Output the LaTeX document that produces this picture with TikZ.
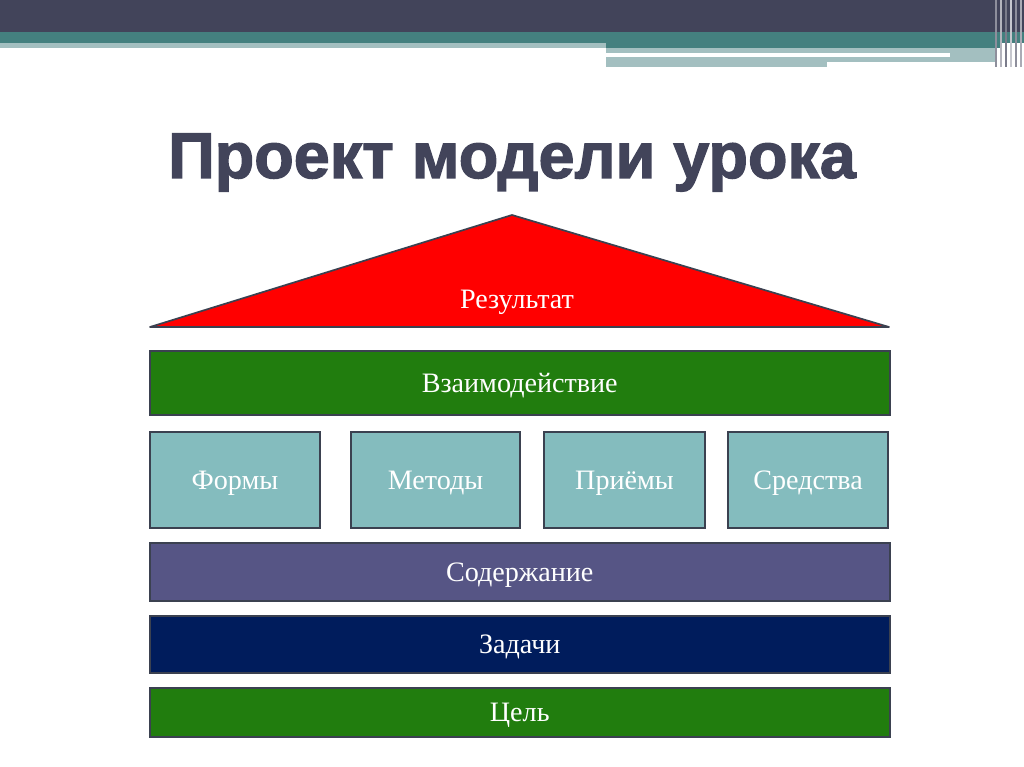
\documentclass[tikz,border=0pt]{standalone}
\usepackage{fontspec}
\setmainfont{Liberation Serif}
\newfontfamily\titlefont[FakeBold=2]{Liberation Sans Bold}
\definecolor{bardark}{HTML}{42445A}
\definecolor{barteal}{HTML}{44807F}
\definecolor{barlight}{HTML}{A3BFC0}
\definecolor{edge}{HTML}{3B4150}
\definecolor{roofred}{HTML}{FF0000}
\definecolor{leafgreen}{HTML}{217D0E}
\definecolor{seateal}{HTML}{84BCBE}
\definecolor{lavender}{HTML}{565585}
\definecolor{navyblue}{HTML}{001C5C}
\begin{document}
\begin{tikzpicture}[x=0.025cm, y=-0.025cm,
  label text/.style={text=white, font=\fontsize{20}{22}\selectfont,
    text height=13.2pt, text depth=0pt},
  block/.style={draw=edge, line width=1.2pt, minimum height=#1, inner sep=0pt,
    label text},
  wide/.style={block=#1, minimum width=18.5cm},
  small/.style={block=2.4cm}]
\useasboundingbox (0,0) rectangle (1024,767);

% top bars
\fill[bardark] (0,0) rectangle (1024,32);
\fill[barteal] (0,32) rectangle (1024,43);
\fill[barlight] (0,43) rectangle (606,48);
\fill[barteal] (606,43) rectangle (1000,48);
\fill[barlight] (606,48) rectangle (995,67);
\fill[white] (606,53) rectangle (950,57);
\fill[white] (827,62) rectangle (995,67);
\foreach \x/\g in {995/60,1000/40,1005/70,1010/30,1015/60,1020/45}
  \fill[bardark!\g] (\x,0) rectangle ++(2,67);

% title
\node[anchor=base] (title) at (512,178) {\titlefont\fontsize{46}{48}\selectfont\color{bardark}Проект модели урока};

% roof
\coordinate (apex) at (512,215);
\coordinate (eaveL) at (150,327);
\coordinate (eaveR) at (889,327);
\draw[fill=roofred, draw=edge, line width=1.2pt, line join=round] (eaveL) -- (apex) -- (eaveR) -- cycle;
\node[label text] (result) at (517,299) {Результат};

\node[wide=1.6cm, fill=leafgreen] (inter) at (519.75,383) {Взаимодействие};

\node[small, minimum width=4.25cm, fill=seateal] (forms) at (235,480) {Формы};
\node[small, minimum width=4.225cm, fill=seateal] (methods) at (435.5,480) {Методы};
\node[small, minimum width=4.025cm, fill=seateal] (tricks) at (624.5,480) {Приёмы};
\node[small, minimum width=4cm, fill=seateal] (means) at (808,480) {Средства};

\node[wide=1.45cm, fill=lavender] (content) at (519.75,572) {Содержание};
\node[wide=1.425cm, fill=navyblue] (tasks) at (519.75,644.5) {Задачи};
\node[wide=1.225cm, fill=leafgreen] (goal) at (519.75,712.5) {Цель};
\end{tikzpicture}
\end{document}
